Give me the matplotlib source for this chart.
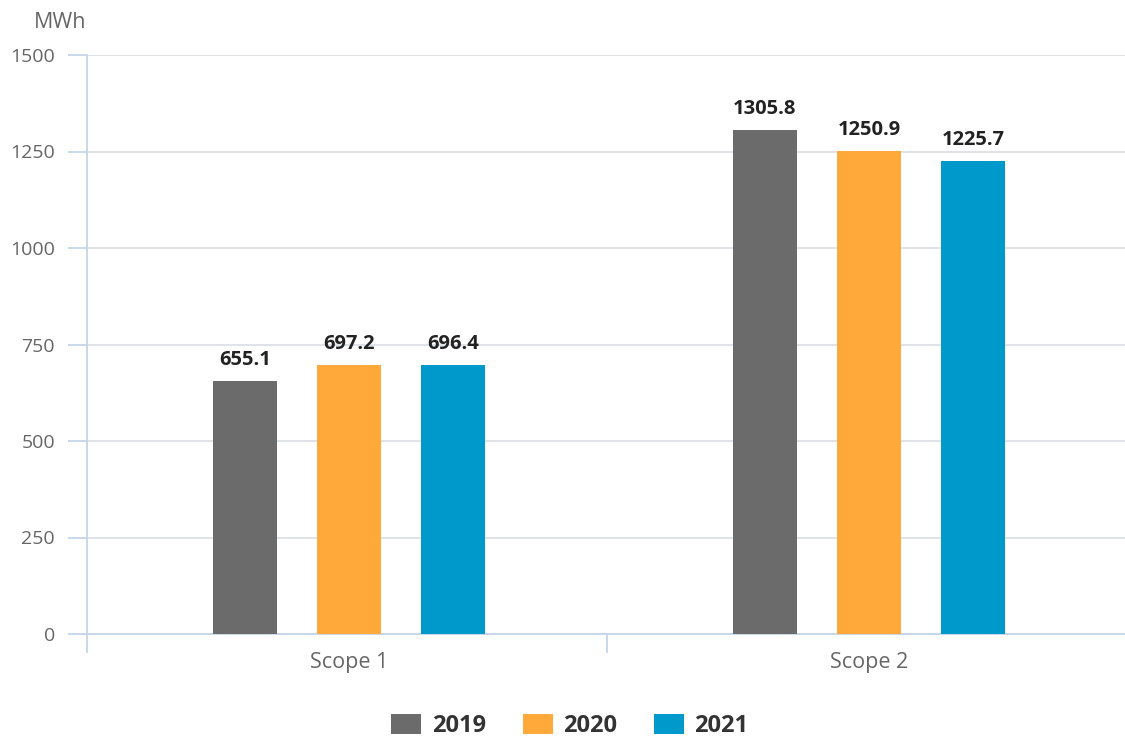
import matplotlib
matplotlib.use("Agg")
import matplotlib.pyplot as plt
from matplotlib.patches import Patch
import numpy as np

categories = ["Scope 1", "Scope 2"]
years = ["2019", "2020", "2021"]
values_2019 = [655.1, 1305.8]
values_2020 = [697.2, 1250.9]
values_2021 = [696.4, 1225.7]
series = [values_2019, values_2020, values_2021]
colors = ["#6b6b6b", "#ffa93a", "#0099cc"]
yticks = [0, 250, 500, 750, 1000, 1250, 1500]

plt.rcParams['font.family'] = ['Open Sans', 'DejaVu Sans']

W, H = 1125, 740
PX = 72 / 100  # points per pixel
fig = plt.figure(figsize=(W / 100, H / 100), dpi=100)
ax = fig.add_axes([87 / W, 1 - 634 / H, (1125 - 87) / W, (634 - 55) / H])

x = np.arange(len(categories))
bw = 64 / 520
offs = [-0.2, 0.0, 0.2]
for vals, c, o in zip(series, colors, offs):
    bars = ax.bar(x + o, vals, width=bw, color=c, zorder=3)
    for b, v in zip(bars, vals):
        ax.annotate(f"{v:.1f}", (b.get_x() + b.get_width() / 2, v),
                    xytext=(0, 8), textcoords="offset points",
                    ha="center", va="bottom", fontsize=14.5,
                    fontweight="bold", color="#222222", zorder=4)

xl = (87 - 349) / 520
xr = (1125 - 349) / 520
ax.set_xlim(xl, xr)
ax.set_ylim(0, 1500)
ax.set_yticks(yticks)
ax.set_yticklabels([str(t) for t in yticks])
ax.grid(axis="y", color="#d9dde3", linewidth=1.2, zorder=0)
ax.set_axisbelow(True)

for s in ["top", "right"]:
    ax.spines[s].set_visible(False)
for s in ["left", "bottom"]:
    ax.spines[s].set_color("#c5d5e8")
    ax.spines[s].set_linewidth(1.3)

ax.tick_params(axis="y", length=19 * PX, color="#c5d5e8", width=1.3,
               labelsize=14, labelcolor="#666666", pad=13 * PX)
ax.set_xticks(x)
ax.set_xticklabels(categories)
ax.tick_params(axis="x", length=0, labelsize=15.5, labelcolor="#666666", pad=18 * PX)
# category separator ticks
ax.set_xticks([xl, 0.5 - 2 / 520], minor=True)
ax.tick_params(axis="x", which="minor", length=19 * PX, color="#c5d5e8", width=1.3)

fig.text(34 / W, 1 - 23 / H, "MWh", fontsize=15.5, color="#666666",
         ha="left", va="center")

fs = 17
fpx = fs / PX
handles = [Patch(facecolor=c, label=y) for c, y in zip(colors, years)]
leg = fig.legend(handles=handles, loc="center", bbox_to_anchor=(570 / W, 1 - 726 / H),
                 ncol=3, frameon=False, handlelength=30 / fpx, handleheight=22 / fpx,
                 handletextpad=11 / fpx, columnspacing=36 / fpx,
                 borderpad=0, prop={"weight": "bold", "size": fs})
for t in leg.get_texts():
    t.set_color("#333333")

fig.savefig("out.png", dpi=100)
